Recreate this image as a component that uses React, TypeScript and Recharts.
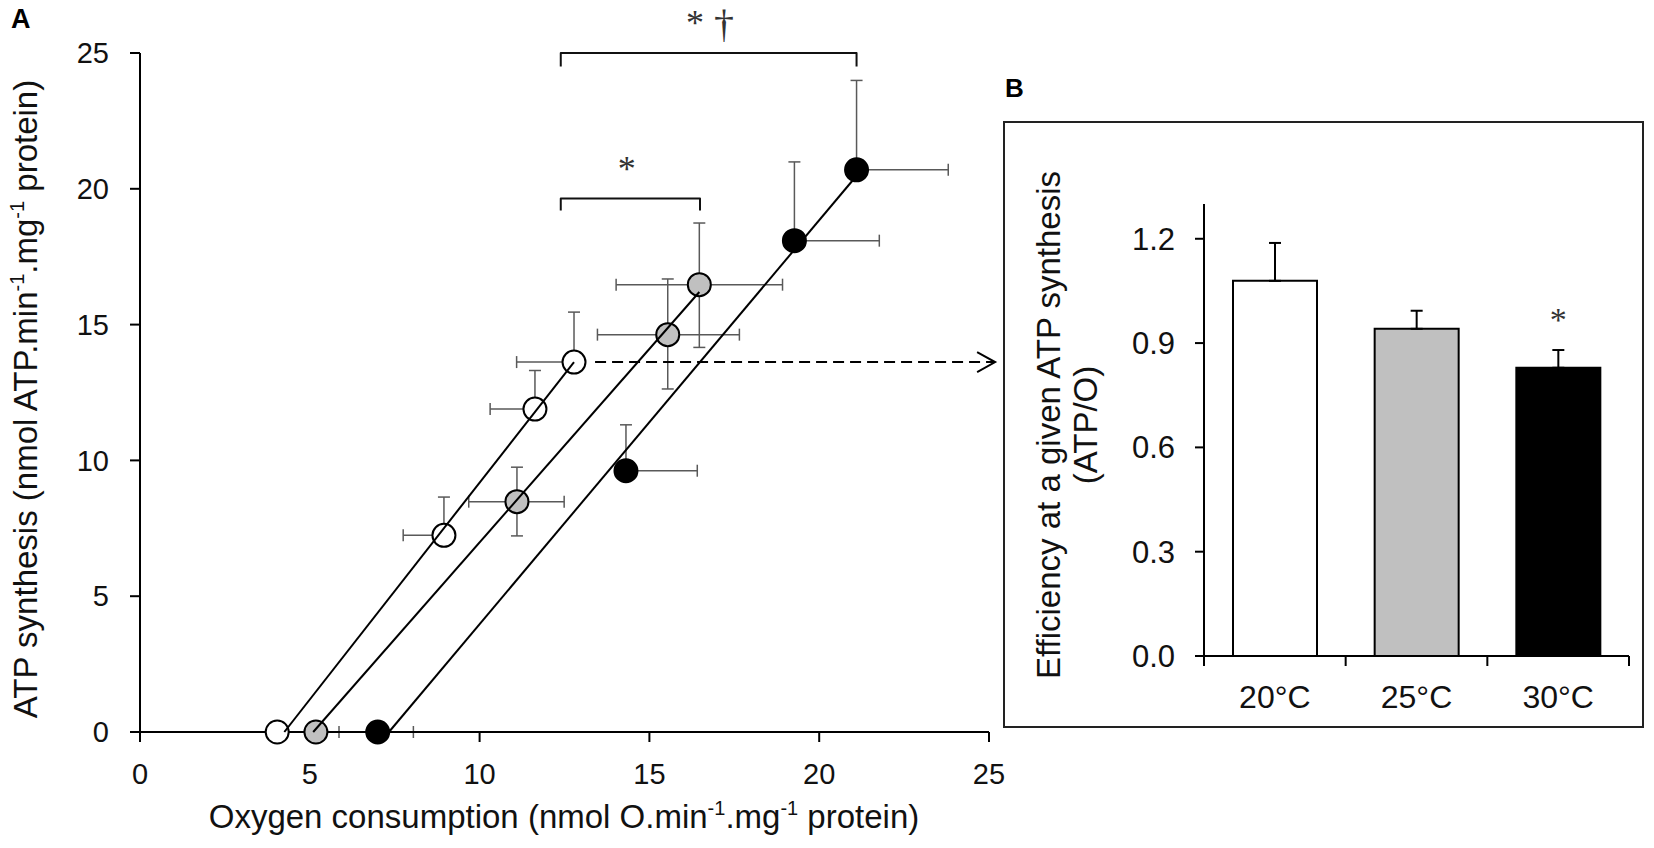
import React from 'react';
import {
  ScatterChart,
  Scatter,
  BarChart,
  Bar,
  Cell,
  XAxis,
  YAxis,
  ErrorBar,
  ReferenceLine,
  ReferenceDot,
} from 'recharts';

// ---- Panel A: ATP synthesis vs oxygen consumption, one series per temperature ----
const O2_20 = [4.04, 8.95, 11.63, 12.78];
const ATP_20 = [0, 7.24, 11.89, 13.62];
const O2_ERR_20 = [[0, 0], [1.2, 0], [1.32, 0], [1.69, 0]];
const ATP_ERR_20 = [[0, 0], [0, 1.41], [0, 1.42], [0, 1.84]];

const O2_25 = [5.18, 11.1, 15.54, 16.47];
const ATP_25 = [0, 8.48, 14.63, 16.47];
const O2_ERR_25 = [[0, 0.68], [1.42, 1.39], [2.07, 2.11], [2.45, 2.45]];
const ATP_ERR_25 = [[0, 0], [1.26, 1.27], [2.0, 2.05], [2.31, 2.27]];

const O2_30 = [7.0, 14.31, 19.27, 21.1];
const ATP_30 = [0, 9.62, 18.09, 20.7];
const O2_ERR_30 = [[0, 1.05], [0, 2.1], [0, 2.5], [0, 2.7]];
const ATP_ERR_30 = [[0, 0], [0, 1.69], [0, 2.9], [0, 3.29]];

// fitted lines (x intercept -> last point)
const FIT_20 = [[4.25, 0], [12.78, 13.62]];
const FIT_25 = [[5.1, 0], [16.47, 16.2]];
const FIT_30 = [[7.33, 0], [21.1, 20.48]];

// significance brackets
const BRACKET_TOP = [[12.39, 24.5], [12.39, 25], [21.1, 25], [21.1, 24.5]];
const BRACKET_LOW = [[12.39, 19.2], [12.39, 19.64], [16.49, 19.64], [16.49, 19.2]];

// dashed arrow towards panel B
const ARROW_FROM = 13.4;
const ARROW_TO = 25.18;

const TICKS_A = [0, 5, 10, 15, 20, 25];

// ---- Panel B: efficiency at a given ATP synthesis ----
const TEMPS = ['20°C', '25°C', '30°C'];
const EFFICIENCY = [1.079, 0.941, 0.829];
const EFFICIENCY_ERR = [0.109, 0.052, 0.051];
const TICKS_B = [0, 0.3, 0.6, 0.9, 1.2];

const FILLS = ['#ffffff', '#c0c0c0', '#000000'];
const ERR_COLOR = '#595959';
const FONT = '"Liberation Sans", Arial, Helvetica, sans-serif';
const SERIF = '"Liberation Serif", "Times New Roman", serif';

const toPoints = (xs: number[], ys: number[], xe: number[][], ye: number[][]) =>
  xs.map((x, i) => ({ x, y: ys[i], xErr: xe[i], yErr: ye[i] }));
const toPairs = (arr: number[][]) => arr.map(([x, y]) => ({ x, y }));

const pts20 = toPoints(O2_20, ATP_20, O2_ERR_20, ATP_ERR_20);
const pts25 = toPoints(O2_25, ATP_25, O2_ERR_25, ATP_ERR_25);
const pts30 = toPoints(O2_30, ATP_30, O2_ERR_30, ATP_ERR_30);

const barData = TEMPS.map((t, i) => ({
  pos: i + 0.5,
  temp: t,
  value: EFFICIENCY[i],
  err: [0, EFFICIENCY_ERR[i]],
}));
const bandTicks = TEMPS.flatMap((_, i) => [i, i + 0.5]).concat(TEMPS.length);

const circle = (fill: string) => (p: any) =>
  <circle cx={p.cx} cy={p.cy} r={11.5} fill={fill} stroke="#000" strokeWidth={2} />;
const noDot = () => <g />;

const mark = (text: string, size: number, dy: string) => (p: any) => (
  <text x={p.cx} y={p.cy} dy={dy} textAnchor="middle" fontSize={size} fontFamily={SERIF} fill="#333">
    {text}
  </text>
);

const arrowHead = (p: any) => (
  <path
    d={`M${p.cx - 18},${p.cy - 10} L${p.cx},${p.cy} L${p.cx - 18},${p.cy + 10}`}
    fill="none"
    stroke="#000"
    strokeWidth={2}
  />
);

const yLabelA = () => (
  <text x={37} y={399} transform="rotate(-90, 37, 399)" textAnchor="middle" fontSize={33} fontFamily={FONT} fill="#111">
    <tspan>ATP synthesis (nmol ATP.min</tspan>
    <tspan fontSize={20} dy={-13}>-1</tspan>
    <tspan dy={13}>.mg</tspan>
    <tspan fontSize={20} dy={-13}>-1</tspan>
    <tspan dy={13}> protein)</tspan>
  </text>
);

const xLabelA = () => (
  <text x={564} y={828} textAnchor="middle" fontSize={33} fontFamily={FONT} fill="#111">
    <tspan>Oxygen consumption (nmol O.min</tspan>
    <tspan fontSize={20} dy={-13}>-1</tspan>
    <tspan dy={13}>.mg</tspan>
    <tspan fontSize={20} dy={-13}>-1</tspan>
    <tspan dy={13}> protein)</tspan>
  </text>
);

// chart-local coordinates of panel B (chart placed at left 1000, top 100)
const yLabelB = () => (
  <g fontSize={33} fontFamily={FONT} fill="#111" textAnchor="middle">
    <text x={60} y={325} transform="rotate(-90, 60, 325)">Efficiency at a given ATP synthesis</text>
    <text x={97} y={325} transform="rotate(-90, 97, 325)">(ATP/O)</text>
  </g>
);

const BandTick = (props: any) => {
  const { x, y, payload } = props;
  const v = payload.value;
  if (Number.isInteger(v)) {
    return <line x1={x} x2={x} y1={y - 29} y2={y - 19} stroke="#000" strokeWidth={2} />;
  }
  return (
    <text x={x} y={y} dy="0.71em" textAnchor="middle" fontSize={32} fontFamily={FONT} fill="#111">
      {TEMPS[Math.floor(v)]}
    </text>
  );
};

const axisStyle = { stroke: '#000', strokeWidth: 2 };
const fitLine = { stroke: '#000', strokeWidth: 2 };
const bracketLine = { stroke: '#111', strokeWidth: 2, strokeLinejoin: 'round' as const };

export default function App() {
  return (
    <div style={{ position: 'absolute', left: 0, top: 0, width: 1654, height: 848, background: '#fff' }}>
      <svg width={1654} height={848} style={{ position: 'absolute', left: 0, top: 0 }}>
        <text x={11} y={28} fontSize={27} fontWeight={700} fontFamily={FONT} fill="#000">A</text>
        <text x={1005} y={97} fontSize={26} fontWeight={700} fontFamily={FONT} fill="#000">B</text>
        <rect x={1004} y={122} width={639} height={605} fill="none" stroke="#222" strokeWidth={2} />
      </svg>

      <div style={{ position: 'absolute', left: 0, top: 0 }}>
        <ScatterChart width={1030} height={848} margin={{ top: 53, right: 41, bottom: 76, left: 80 }}>
          <XAxis
            type="number"
            dataKey="x"
            domain={[0, 25]}
            ticks={TICKS_A}
            height={40}
            tickSize={10}
            tickMargin={21}
            axisLine={axisStyle}
            tickLine={axisStyle}
            tick={{ fontSize: 29, fill: '#111', fontFamily: FONT }}
            label={{ content: xLabelA }}
          />
          <YAxis
            type="number"
            dataKey="y"
            domain={[0, 25]}
            ticks={TICKS_A}
            width={60}
            tickSize={10}
            tickMargin={21}
            axisLine={axisStyle}
            tickLine={axisStyle}
            tick={{ fontSize: 29, fill: '#111', fontFamily: FONT }}
            label={{ content: yLabelA }}
          />

          <Scatter data={toPairs(BRACKET_TOP)} line={bracketLine} shape={noDot} isAnimationActive={false} />
          <Scatter data={toPairs(BRACKET_LOW)} line={bracketLine} shape={noDot} isAnimationActive={false} />

          <Scatter data={pts20} shape={circle(FILLS[0])} isAnimationActive={false}>
            <ErrorBar dataKey="xErr" direction="x" width={6} stroke={ERR_COLOR} strokeWidth={1.5} />
            <ErrorBar dataKey="yErr" direction="y" width={6} stroke={ERR_COLOR} strokeWidth={1.5} />
          </Scatter>
          <Scatter data={pts25} shape={circle(FILLS[1])} isAnimationActive={false}>
            <ErrorBar dataKey="xErr" direction="x" width={6} stroke={ERR_COLOR} strokeWidth={1.5} />
            <ErrorBar dataKey="yErr" direction="y" width={6} stroke={ERR_COLOR} strokeWidth={1.5} />
          </Scatter>
          <Scatter data={pts30} shape={circle(FILLS[2])} isAnimationActive={false}>
            <ErrorBar dataKey="xErr" direction="x" width={6} stroke={ERR_COLOR} strokeWidth={1.5} />
            <ErrorBar dataKey="yErr" direction="y" width={6} stroke={ERR_COLOR} strokeWidth={1.5} />
          </Scatter>

          <Scatter data={toPairs(FIT_20)} line={fitLine} shape={noDot} isAnimationActive={false} />
          <Scatter data={toPairs(FIT_25)} line={fitLine} shape={noDot} isAnimationActive={false} />
          <Scatter data={toPairs(FIT_30)} line={fitLine} shape={noDot} isAnimationActive={false} />

          <ReferenceLine
            segment={[{ x: ARROW_FROM, y: ATP_20[3] }, { x: ARROW_TO, y: ATP_20[3] }]}
            stroke="#000"
            strokeWidth={2}
            strokeDasharray="11 6"
            ifOverflow="visible"
          />
          <ReferenceDot x={ARROW_TO} y={ATP_20[3]} ifOverflow="visible" shape={arrowHead} />

          <ReferenceDot x={16.34} y={26.29} ifOverflow="visible" shape={mark('*', 36, '0.46em')} />
          <ReferenceDot x={17.2} y={25.98} ifOverflow="visible" shape={mark('†', 40, '0.26em')} />
          <ReferenceDot x={14.33} y={20.89} ifOverflow="visible" shape={mark('*', 36, '0.46em')} />
        </ScatterChart>
      </div>

      <div style={{ position: 'absolute', left: 1000, top: 100 }}>
        <BarChart width={654} height={748} data={barData} margin={{ top: 104, right: 25, bottom: 132, left: 124 }}>
          <XAxis
            dataKey="pos"
            type="number"
            domain={[0, TEMPS.length]}
            ticks={bandTicks}
            interval={0}
            height={60}
            tickSize={10}
            tickMargin={19}
            tickLine={false}
            axisLine={axisStyle}
            tick={BandTick}
          />
          <YAxis
            domain={[0, 1.3]}
            ticks={TICKS_B}
            tickFormatter={(v: number) => v.toFixed(1)}
            width={80}
            tickSize={9}
            tickMargin={20}
            axisLine={axisStyle}
            tickLine={axisStyle}
            tick={{ fontSize: 31, fill: '#111', fontFamily: FONT }}
            label={{ content: yLabelB }}
          />
          <Bar dataKey="value" barSize={84} stroke="#000" strokeWidth={2} isAnimationActive={false}>
            {barData.map((d, i) => (
              <Cell key={d.temp} fill={FILLS[i]} />
            ))}
            <ErrorBar dataKey="err" direction="y" width={6} stroke="#000" strokeWidth={2} />
          </Bar>
          <ReferenceDot x={2.5} y={0.979} ifOverflow="visible" shape={mark('*', 34, '0.46em')} />
        </BarChart>
      </div>
    </div>
  );
}
